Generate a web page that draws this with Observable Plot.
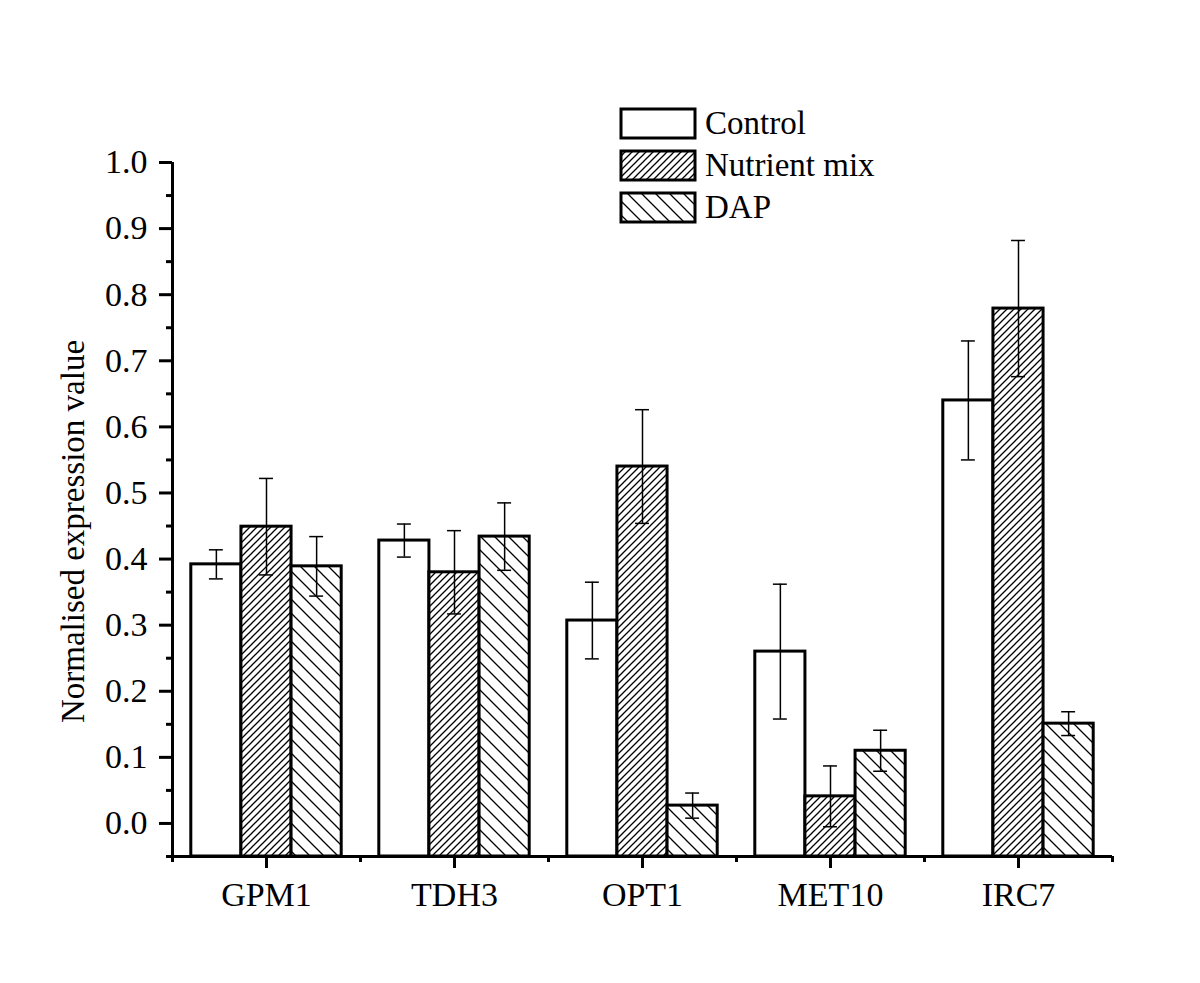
<!DOCTYPE html>
<html>
<head>
<meta charset="utf-8">
<script src="https://cdn.jsdelivr.net/npm/d3@7"></script>
<script src="https://cdn.jsdelivr.net/npm/@observablehq/plot@0.6"></script>
<style>
  html, body { margin: 0; padding: 0; background: #fff; }
  #chart { position: relative; width: 1200px; height: 983px; }
  #chart svg { font-family: "Liberation Serif", "Times New Roman", serif; }
</style>
</head>
<body>
<div id="chart"></div>
<script>
// ---- data ----
const genes = ["GPM1", "TDH3", "OPT1", "MET10", "IRC7"];
const treatments = ["Control", "Nutrient mix", "DAP"];
const control     = [0.392, 0.428, 0.307, 0.260, 0.640];
const controlErr  = [0.022, 0.025, 0.058, 0.102, 0.090];
const nutrient    = [0.449, 0.380, 0.540, 0.041, 0.779];
const nutrientErr = [0.073, 0.063, 0.086, 0.046, 0.103];
const dap         = [0.389, 0.434, 0.027, 0.110, 0.151];
const dapErr      = [0.045, 0.051, 0.019, 0.031, 0.018];
const yMajorTicks = [0, 0.1, 0.2, 0.3, 0.4, 0.5, 0.6, 0.7, 0.8, 0.9, 1.0];
const yMinorTicks = [-0.05, 0.05, 0.15, 0.25, 0.35, 0.45, 0.55, 0.65, 0.75, 0.85, 0.95];
const yLabel = "Normalised expression value";

// ---- build table ----
const series = [[control, controlErr], [nutrient, nutrientErr], [dap, dapErr]];
const patterns = ["#ffffff", "url(#hatchNutrient)", "url(#hatchDAP)"];
const groupPad = 0.1, barW = 0.8 / 3, capHalf = 0.037;
const rows = [];
genes.forEach((g, gi) => {
  treatments.forEach((t, ti) => {
    const x1 = gi + groupPad + ti * barW;
    rows.push({
      gene: g, treatment: t, ti,
      x1, x2: x1 + barW, xc: x1 + barW / 2,
      value: series[ti][0][gi], err: series[ti][1][gi]
    });
  });
});
const yMin = -0.05, yMax = 1.0;
const serif = '"Liberation Serif", "Times New Roman", serif';

const plot = Plot.plot({
  width: 1200,
  height: 983,
  marginLeft: 172,
  marginRight: 88,
  marginTop: 162,
  marginBottom: 127,
  x: {type: "linear", domain: [0, genes.length]},
  y: {domain: [yMin, yMax]},
  style: {background: "#fff", color: "#000", overflow: "visible", fontFamily: serif},
  marks: [
    Plot.rectY(rows, {
      x1: "x1", x2: "x2", y1: () => yMin, y2: "value",
      fill: d => patterns[d.ti], stroke: "#000", strokeWidth: 3
    }),
    Plot.ruleX(rows, {x: "xc", y1: d => d.value - d.err, y2: d => d.value + d.err, stroke: "#000", strokeWidth: 1.5}),
    Plot.ruleY(rows, {y: d => d.value + d.err, x1: d => d.xc - capHalf, x2: d => d.xc + capHalf, stroke: "#000", strokeWidth: 1.5}),
    Plot.ruleY(rows, {y: d => d.value - d.err, x1: d => d.xc - capHalf, x2: d => d.xc + capHalf, stroke: "#000", strokeWidth: 1.5}),
    // axis lines
    Plot.ruleX([0], {stroke: "#000", strokeWidth: 3}),
    Plot.ruleY([yMin], {stroke: "#000", strokeWidth: 3}),
    // y axis
    Plot.axisY({ticks: yMajorTicks, tickSize: 13, tickPadding: 12, strokeWidth: 3,
      tickFormat: d3.format(".1f"), fontSize: 34, label: null}),
    Plot.axisY({ticks: yMinorTicks, tickSize: 6, strokeWidth: 3, fill: "none", label: null}),
    // x axis
    Plot.axisX({ticks: genes.map((g, i) => i + 0.5), tickSize: 12, tickPadding: 13, strokeWidth: 3,
      tickFormat: d => genes[Math.floor(d)], fontSize: 34, label: null}),
    Plot.axisX({ticks: d3.range(genes.length + 1), tickSize: 6, strokeWidth: 3, fill: "none", label: null}),
    // y label
    Plot.text([yLabel], {frameAnchor: "left", textAnchor: "middle", rotate: -90, dx: -99, dy: 22,
      fontSize: 33, fill: "#000"})
  ]
});

// ---- hatch patterns ----
const svg = d3.select(plot);
const defs = svg.insert("defs", ":first-child");
const p1 = defs.append("pattern").attr("id", "hatchNutrient")
  .attr("patternUnits", "userSpaceOnUse").attr("width", 7).attr("height", 7);
p1.append("rect").attr("width", 7).attr("height", 7).attr("fill", "#fff");
p1.append("path").attr("d", "M-1,8 L8,-1 M-1,1 L1,-1 M6,8 L8,6")
  .attr("stroke", "#000").attr("stroke-width", 1.3);
const p2 = defs.append("pattern").attr("id", "hatchDAP")
  .attr("patternUnits", "userSpaceOnUse").attr("width", 14).attr("height", 14);
p2.append("rect").attr("width", 14).attr("height", 14).attr("fill", "#fff");
p2.append("path").attr("d", "M-1,-1 L15,15 M-1,13 L1,15 M13,-1 L15,1")
  .attr("stroke", "#000").attr("stroke-width", 1.3);

// ---- legend ----
const lg = svg.append("g").attr("class", "legend").attr("text-anchor", "start");
treatments.forEach((t, i) => {
  const y0 = 109 + i * 42;
  lg.append("rect").attr("x", 621).attr("y", y0).attr("width", 74).attr("height", 29)
    .attr("fill", patterns[i]).attr("stroke", "#000").attr("stroke-width", 3);
  lg.append("text").attr("x", 705).attr("y", y0 + 25)
    .attr("font-size", 33).attr("fill", "#000").attr("text-anchor", "start").text(t);
});

document.getElementById("chart").appendChild(plot);
</script>
</body>
</html>
